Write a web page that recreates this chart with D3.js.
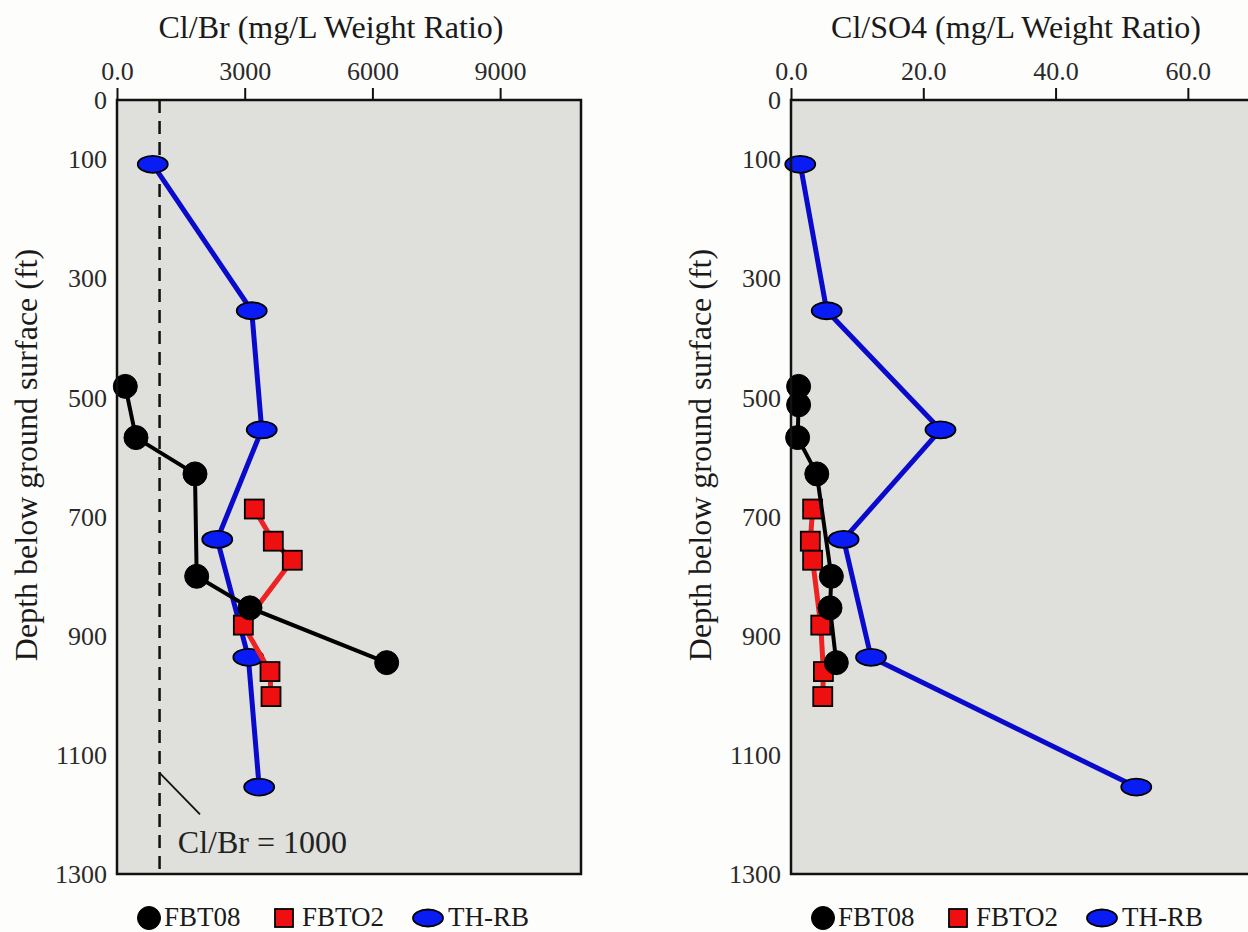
<!DOCTYPE html>
<html>
<head>
<meta charset="utf-8">
<script src="https://cdn.jsdelivr.net/npm/d3@7"></script>
<style>
  html, body { margin: 0; padding: 0; background: #fdfdfb; }
  svg { display: block; }
</style>
</head>
<body>
<svg id="chart" width="1248" height="932"></svg>
<script>
// Sample depths (ft below ground surface) for each well
const depthTHRB  = [108, 354, 554, 738, 936, 1154];
const depthFBT08 = [481, 512, 567, 628, 800, 853, 945];
const depthFBTO2 = [687, 741, 773, 882, 960, 1002];

// Cl/Br weight ratios (null = no Cl/Br value at that depth)
const clbrTHRB  = [840, 3165, 3400, 2355, 3085, 3340];
const clbrFBT08 = [195, null, 446, 1832, 1872, 3124, 6335];
const clbrFBTO2 = [3226, 3672, 4118, 2968, 3594, 3618];

// Cl/SO4 weight ratios
const clso4THRB  = [1.4, 5.4, 22.6, 7.95, 12.1, 52.2];
const clso4FBT08 = [1.15, 1.15, 1.0, 3.9, 6.1, 5.9, 6.85];
const clso4FBTO2 = [3.27, 2.92, 3.27, 4.5, 4.9, 4.8];

// Axis ticks and labels
const depthTicks = [0, 100, 300, 500, 700, 900, 1100, 1300];
const clbrTicks = [0, 3000, 6000, 9000];
const clbrTickLabels = ["0.0", "3000", "6000", "9000"];
const clso4Ticks = [0, 20, 40, 60];
const clso4TickLabels = ["0.0", "20.0", "40.0", "60.0"];

// Reference line and its note
const clbrReference = 1000;
const clbrReferenceNote = "Cl/Br = 1000";

const wellNames = ["FBT08", "FBTO2", "TH-RB"];

const FONT = "'Liberation Serif', 'Times New Roman', Times, serif";
const svg = d3.select("#chart");

const y = d3.scaleLinear().domain([0, 1300]).range([100, 874]);

const seriesStyle = {
  "TH-RB": { line: "#0a0acc", fill: "#0a1cf4", shape: "ellipse", width: 5 },
  "FBTO2": { line: "#ee2222", fill: "#ee1010", shape: "square", width: 5 },
  "FBT08": { line: "#000000", fill: "#000000", shape: "circle", width: 4 }
};

const panels = [
  {
    title: "Cl/Br (mg/L Weight Ratio)", titleX: 331,
    domain: [0, 10900], range: [117, 581],
    ticks: clbrTicks, labels: clbrTickLabels,
    series: [
      { name: "TH-RB", depth: depthTHRB,  value: clbrTHRB },
      { name: "FBTO2", depth: depthFBTO2, value: clbrFBTO2 },
      { name: "FBT08", depth: depthFBT08, value: clbrFBT08 }
    ],
    reference: true
  },
  {
    title: "Cl/SO4 (mg/L Weight Ratio)", titleX: 1016,
    domain: [0, 70], range: [791, 1254],
    ticks: clso4Ticks, labels: clso4TickLabels,
    series: [
      { name: "TH-RB", depth: depthTHRB,  value: clso4THRB },
      { name: "FBTO2", depth: depthFBTO2, value: clso4FBTO2 },
      { name: "FBT08", depth: depthFBT08, value: clso4FBT08 }
    ],
    reference: false
  }
];

function drawMarker(sel, shape, fill, size) {
  if (shape === "circle") {
    sel.append("circle").attr("r", size.r).attr("fill", fill)
      .attr("stroke", "#000").attr("stroke-width", 1);
  } else if (shape === "square") {
    sel.append("rect").attr("x", -size.s / 2).attr("y", -size.s / 2)
      .attr("width", size.s).attr("height", size.s).attr("fill", fill)
      .attr("stroke", "#000").attr("stroke-width", 1.8);
  } else {
    sel.append("ellipse").attr("rx", size.rx).attr("ry", size.ry).attr("fill", fill)
      .attr("stroke", "#000").attr("stroke-width", 1.8);
  }
}

panels.forEach(p => {
  const x = d3.scaleLinear().domain(p.domain).range(p.range);
  const g = svg.append("g");
  const [x0, x1] = p.range;
  const [y0, y1] = y.range();

  // plot background
  g.append("rect").attr("x", x0).attr("y", y0)
    .attr("width", x1 - x0).attr("height", y1 - y0)
    .attr("fill", "#dfdfdc");

  // reference ratio line
  if (p.reference) {
    g.append("line")
      .attr("x1", x(clbrReference)).attr("x2", x(clbrReference))
      .attr("y1", y0).attr("y2", y1)
      .attr("stroke", "#111").attr("stroke-width", 2.5)
      .attr("stroke-dasharray", "13,8");
    g.append("line")
      .attr("x1", x(clbrReference)).attr("y1", y(1130))
      .attr("x2", x(1950)).attr("y2", y(1200))
      .attr("stroke", "#111").attr("stroke-width", 1.8);
    g.append("text")
      .attr("x", x(1430)).attr("y", y(1265))
      .attr("font-family", FONT).attr("font-size", 32).attr("fill", "#222")
      .text(clbrReferenceNote);
  }

  // series lines then markers
  p.series.forEach(s => {
    const st = seriesStyle[s.name];
    const pts = s.depth.map((d, i) => ({ d, v: s.value[i] })).filter(o => o.v != null);
    const line = d3.line().x(o => x(o.v)).y(o => y(o.d));
    g.append("path").datum(pts).attr("d", line)
      .attr("fill", "none").attr("stroke", st.line)
      .attr("stroke-width", st.width).attr("stroke-linejoin", "round");
    pts.forEach(o => {
      const m = g.append("g").attr("transform", `translate(${x(o.v)},${y(o.d)})`);
      drawMarker(m, st.shape, st.fill, { r: 12, s: 19, rx: 15, ry: 8.5 });
    });
  });

  // frame
  g.append("rect").attr("x", x0).attr("y", y0)
    .attr("width", x1 - x0).attr("height", y1 - y0)
    .attr("fill", "none").attr("stroke", "#111").attr("stroke-width", 2.5);

  // top axis
  const ax = g.append("g").attr("transform", `translate(0,${y0})`)
    .call(d3.axisTop(x).tickValues(p.ticks).tickFormat((d, i) => p.labels[i])
      .tickSize(12).tickPadding(8));
  ax.select(".domain").remove();
  ax.selectAll(".tick line").attr("stroke", "#111").attr("stroke-width", 2);
  ax.selectAll(".tick text").attr("font-family", FONT).attr("font-size", 26).attr("fill", "#2a2a2a");

  // left axis
  const ay = g.append("g").attr("transform", `translate(${x0},0)`)
    .call(d3.axisLeft(y).tickValues(depthTicks).tickFormat(d3.format("d"))
      .tickSize(0).tickPadding(10));
  ay.select(".domain").remove();
  ay.selectAll(".tick text").attr("font-family", FONT).attr("font-size", 26).attr("fill", "#2a2a2a");

  // titles
  g.append("text").attr("x", p.titleX).attr("y", 38)
    .attr("text-anchor", "middle").attr("font-family", FONT)
    .attr("font-size", 32).attr("fill", "#1a1a1a").text(p.title);
  g.append("text")
    .attr("transform", `translate(${x0 - 80},455) rotate(-90)`)
    .attr("text-anchor", "middle").attr("font-family", FONT)
    .attr("font-size", 32).attr("fill", "#1a1a1a")
    .text("Depth below ground surface (ft)");

  // legend
  const legendItems = [
    { name: wellNames[0], mx: 32, tx: 47 },
    { name: wellNames[1], mx: 167, tx: 185 },
    { name: wellNames[2], mx: 311, tx: 331 }
  ];
  legendItems.forEach(it => {
    const st = seriesStyle[it.name];
    const m = g.append("g").attr("transform", `translate(${x0 + it.mx},918)`);
    drawMarker(m, st.shape, st.fill, { r: 11.5, s: 18, rx: 15, ry: 8.5 });
    g.append("text").attr("x", x0 + it.tx).attr("y", 926)
      .attr("font-family", FONT).attr("font-size", 27).attr("fill", "#1a1a1a")
      .text(it.name);
  });
});
</script>
</body>
</html>
